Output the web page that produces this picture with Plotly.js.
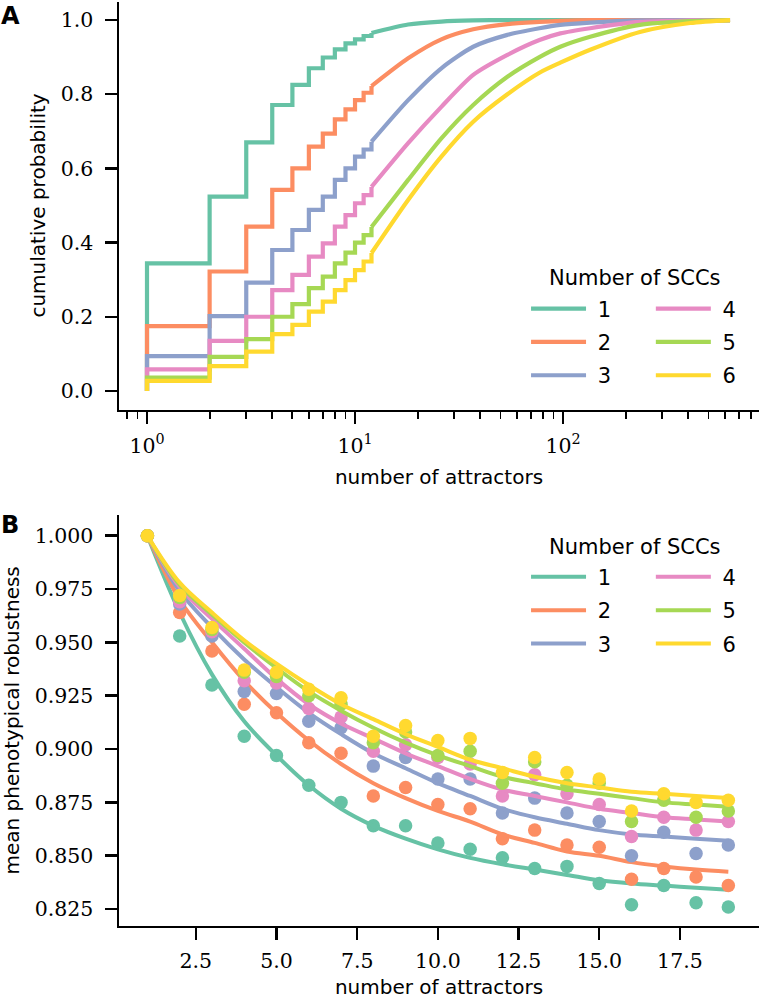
<!DOCTYPE html>
<html><head><meta charset="utf-8">
<script src="https://cdn.plot.ly/plotly-3.0.1.min.js"></script>
<style>html,body{margin:0;padding:0;background:#fff}#chart{width:759px;height:1000px}</style>
</head><body><div id="chart"></div>
<script>
// ---------- shared ----------
const sccLabels = ['1', '2', '3', '4', '5', '6'];
const sccColors = ['#66c2a5', '#fc8d62', '#8da0cb', '#e78ac3', '#a6d854', '#ffd92f'];

// ---------- panel A: cumulative probability vs number of attractors ----------
const stepAttractors = [1, 1, 2, 3, 4, 5, 6, 7, 8, 9, 10, 11, 12];
const cdfStep1 = [0, 0.344, 0.524, 0.670, 0.771, 0.825, 0.870, 0.899, 0.921, 0.937, 0.948, 0.957, 0.965];
const cdfStep2 = [0, 0.175, 0.322, 0.443, 0.542, 0.600, 0.659, 0.694, 0.732, 0.759, 0.784, 0.804, 0.822];
const cdfStep3 = [0, 0.094, 0.202, 0.292, 0.380, 0.434, 0.488, 0.524, 0.569, 0.600, 0.632, 0.651, 0.672];
const cdfStep4 = [0, 0.058, 0.135, 0.200, 0.272, 0.313, 0.362, 0.398, 0.443, 0.474, 0.506, 0.528, 0.550];
const cdfStep5 = [0, 0.036, 0.092, 0.140, 0.200, 0.234, 0.277, 0.308, 0.344, 0.373, 0.400, 0.420, 0.442];
const cdfStep6 = [0, 0.027, 0.067, 0.106, 0.153, 0.178, 0.214, 0.241, 0.272, 0.299, 0.326, 0.349, 0.372];

const tailAttractors = [12, 18, 26, 37, 54, 77, 97, 135, 234, 408, 635];
const cdfTail1 = [0.965, 0.988, 0.996, 0.999, 1.0, 1.0, 1.0, 1.0, 1.0, 1.0, 1.0];
const cdfTail2 = [0.822, 0.897, 0.948, 0.975, 0.989, 0.995, 0.998, 1.0, 1.0, 1.0, 1.0];
const cdfTail3 = [0.672, 0.784, 0.870, 0.928, 0.960, 0.978, 0.987, 0.993, 0.999, 1.0, 1.0];
const cdfTail4 = [0.550, 0.668, 0.766, 0.852, 0.906, 0.946, 0.964, 0.978, 0.995, 0.999, 1.0];
const cdfTail5 = [0.442, 0.569, 0.681, 0.771, 0.847, 0.900, 0.928, 0.955, 0.987, 0.997, 1.0];
const cdfTail6 = [0.372, 0.515, 0.632, 0.726, 0.800, 0.858, 0.885, 0.920, 0.968, 0.992, 1.0];

const logTickVals = [1, 10, 100];
const logTickText = ['10<sup>0</sup>', '10<sup>1</sup>', '10<sup>2</sup>'];

// ---------- panel B: mean phenotypical robustness ----------
const attractorsB = [1, 2, 3, 4, 5, 6, 7, 8, 9, 10, 11, 12, 13, 14, 15, 16, 17, 18, 19];
const robust1 = [1.000, 0.953, 0.930, 0.906, 0.897, 0.883, 0.875, 0.864, 0.864, 0.856, 0.853, 0.849, 0.844, 0.845, 0.837, 0.827, 0.836, 0.828, 0.826];
const robust2 = [1.000, 0.964, 0.946, 0.921, 0.917, 0.903, 0.898, 0.878, 0.882, 0.874, 0.872, 0.858, 0.862, 0.855, 0.854, 0.839, 0.844, 0.840, 0.836];
const robust3 = [1.000, 0.968, 0.953, 0.927, 0.926, 0.913, 0.910, 0.892, 0.896, 0.886, 0.886, 0.870, 0.877, 0.870, 0.866, 0.850, 0.861, 0.851, 0.855];
const robust4 = [1.000, 0.969, 0.955, 0.932, 0.931, 0.919, 0.915, 0.899, 0.902, 0.896, 0.893, 0.878, 0.888, 0.879, 0.874, 0.859, 0.868, 0.862, 0.866];
const robust5 = [1.000, 0.971, 0.956, 0.936, 0.934, 0.925, 0.921, 0.903, 0.908, 0.897, 0.899, 0.884, 0.894, 0.883, 0.884, 0.866, 0.876, 0.868, 0.871];
const robust6 = [1.000, 0.972, 0.957, 0.937, 0.936, 0.928, 0.924, 0.906, 0.911, 0.904, 0.905, 0.889, 0.896, 0.889, 0.886, 0.871, 0.879, 0.875, 0.876];

const fit1 = [1.000, 0.964, 0.935, 0.913, 0.897, 0.883, 0.872, 0.864, 0.858, 0.853, 0.849, 0.846, 0.8435, 0.841, 0.8385, 0.837, 0.836, 0.835, 0.834];
const fit2 = [1.000, 0.970, 0.950, 0.932, 0.917, 0.904, 0.893, 0.884, 0.877, 0.871, 0.866, 0.860, 0.856, 0.852, 0.850, 0.847, 0.845, 0.8435, 0.8425];
const fit3 = [1.000, 0.974, 0.957, 0.942, 0.929, 0.917, 0.907, 0.898, 0.891, 0.884, 0.878, 0.872, 0.868, 0.865, 0.862, 0.860, 0.859, 0.858, 0.857];
const fit4 = [1.000, 0.976, 0.961, 0.947, 0.933, 0.921, 0.912, 0.905, 0.898, 0.892, 0.886, 0.881, 0.878, 0.875, 0.872, 0.870, 0.868, 0.867, 0.866];
const fit5 = [1.000, 0.977, 0.963, 0.950, 0.938, 0.927, 0.918, 0.910, 0.903, 0.897, 0.892, 0.887, 0.884, 0.881, 0.879, 0.877, 0.875, 0.874, 0.873];
const fit6 = [1.000, 0.978, 0.964, 0.951, 0.940, 0.930, 0.921, 0.914, 0.907, 0.901, 0.895, 0.891, 0.887, 0.884, 0.882, 0.880, 0.879, 0.878, 0.877];

const cdfSteps = [cdfStep1, cdfStep2, cdfStep3, cdfStep4, cdfStep5, cdfStep6];
const cdfTails = [cdfTail1, cdfTail2, cdfTail3, cdfTail4, cdfTail5, cdfTail6];
const robustAll = [robust1, robust2, robust3, robust4, robust5, robust6];
const fitAll = [fit1, fit2, fit3, fit4, fit5, fit6];

// no-break space so the label sits a little further from the line sample
const legendName = s => '\u00a0' + s;

const traces = [];
for (let i = 0; i < 6; i++) {
  traces.push({
    x: stepAttractors, y: cdfSteps[i], type: 'scatter', mode: 'lines',
    line: {shape: 'hv', color: sccColors[i], width: 4.2},
    name: legendName(sccLabels[i]), legend: i < 3 ? 'legend' : 'legend2', legendgroup: 'a' + i,
    xaxis: 'x', yaxis: 'y', hoverinfo: 'skip'
  });
  traces.push({
    x: tailAttractors, y: cdfTails[i], type: 'scatter', mode: 'lines',
    line: {shape: 'spline', smoothing: 0.7, color: sccColors[i], width: 4.2},
    showlegend: false, xaxis: 'x', yaxis: 'y', hoverinfo: 'skip'
  });
}
for (let i = 0; i < 6; i++) {
  traces.push({
    x: attractorsB, y: robustAll[i], type: 'scatter', mode: 'markers',
    marker: {color: sccColors[i], size: 13.5, line: {width: 0}},
    showlegend: false, xaxis: 'x2', yaxis: 'y2', hoverinfo: 'skip'
  });
  traces.push({
    x: attractorsB, y: fitAll[i], type: 'scatter', mode: 'lines',
    line: {shape: 'spline', color: sccColors[i], width: 4},
    name: legendName(sccLabels[i]), legend: i < 3 ? 'legend3' : 'legend4', legendgroup: 'b' + i,
    xaxis: 'x2', yaxis: 'y2', hoverinfo: 'skip'
  });
}

const tickFont = {family: 'DejaVu Serif', size: 20.5, color: '#000'};
const titleFont = {family: 'DejaVu Sans', size: 20, color: '#000'};
const axisCommon = {
  showline: true, linewidth: 2.5, linecolor: '#000', mirror: false,
  ticks: 'outside', ticklen: 12, tickwidth: 2.5, tickcolor: '#000',
  showgrid: false, zeroline: false, tickfont: tickFont, automargin: false
};
const legendCommon = {
  xanchor: 'left', yanchor: 'top', bgcolor: 'rgba(0,0,0,0)', borderwidth: 0,
  font: {family: 'DejaVu Sans', size: 21, color: '#000'}, itemwidth: 55,
  tracegroupgap: 3.04, traceorder: 'grouped'
};

const layout = {
  width: 759, height: 1000,
  margin: {l: 119, r: 0, t: 0, b: 0},
  paper_bgcolor: '#fff', plot_bgcolor: '#fff',
  font: {family: 'DejaVu Sans', color: '#000'},
  showlegend: true,
  xaxis: Object.assign({}, axisCommon, {
    type: 'log', range: [-0.1346, 2.942], domain: [0, 1], anchor: 'y',
    tickmode: 'array', tickvals: logTickVals, ticktext: logTickText, ticklabelstandoff: 4,
    minor: {ticks: 'outside', ticklen: 7, tickwidth: 1.8, tickcolor: '#000', dtick: 'D1', showgrid: false},
    title: {text: 'number of attractors', font: titleFont, standoff: 14}
  }),
  yaxis: Object.assign({}, axisCommon, {
    range: [-0.05, 1.05], domain: [0.5905, 0.9985], anchor: 'x',
    tick0: 0, dtick: 0.2, tickformat: '.1f', ticklabelstandoff: 7,
    title: {text: 'cumulative probability', font: titleFont, standoff: 10}
  }),
  xaxis2: Object.assign({}, axisCommon, {
    range: [0.12, 19.95], domain: [0, 1], anchor: 'y2',
    tick0: 2.5, dtick: 2.5, tickformat: '.1f', ticklabelstandoff: 3,
    title: {text: 'number of attractors', font: titleFont, standoff: 8}
  }),
  yaxis2: Object.assign({}, axisCommon, {
    range: [0.8172, 1.0097], domain: [0.0743, 0.485], anchor: 'x2',
    tick0: 0.825, dtick: 0.025, tickformat: '.3f', ticklabelstandoff: 7,
    title: {text: 'mean phenotypical robustness', font: titleFont, standoff: 10}
  }),
  legend: Object.assign({}, legendCommon, {x: 0.636, y: 0.7116}),
  legend2: Object.assign({}, legendCommon, {x: 0.831, y: 0.7116}),
  legend3: Object.assign({}, legendCommon, {x: 0.636, y: 0.4433}),
  legend4: Object.assign({}, legendCommon, {x: 0.831, y: 0.4433}),
  annotations: [
    {text: 'Number of SCCs', xref: 'paper', yref: 'paper', x: 0.806, y: 0.722,
     xanchor: 'center', yanchor: 'middle', showarrow: false,
     font: {family: 'DejaVu Sans', size: 21, color: '#000'}},
    {text: 'Number of SCCs', xref: 'paper', yref: 'paper', x: 0.806, y: 0.4533,
     xanchor: 'center', yanchor: 'middle', showarrow: false,
     font: {family: 'DejaVu Sans', size: 21, color: '#000'}},
    {text: '<b>A</b>', xref: 'paper', yref: 'paper', x: -0.188, y: 0.9835,
     xanchor: 'left', yanchor: 'middle', showarrow: false,
     font: {family: 'DejaVu Sans', size: 24, color: '#000'}},
    {text: '<b>B</b>', xref: 'paper', yref: 'paper', x: -0.188, y: 0.475,
     xanchor: 'left', yanchor: 'middle', showarrow: false,
     font: {family: 'DejaVu Sans', size: 24, color: '#000'}}
  ]
};

Plotly.newPlot('chart', traces, layout, {displayModeBar: false, staticPlot: true});
</script>
</body></html>
